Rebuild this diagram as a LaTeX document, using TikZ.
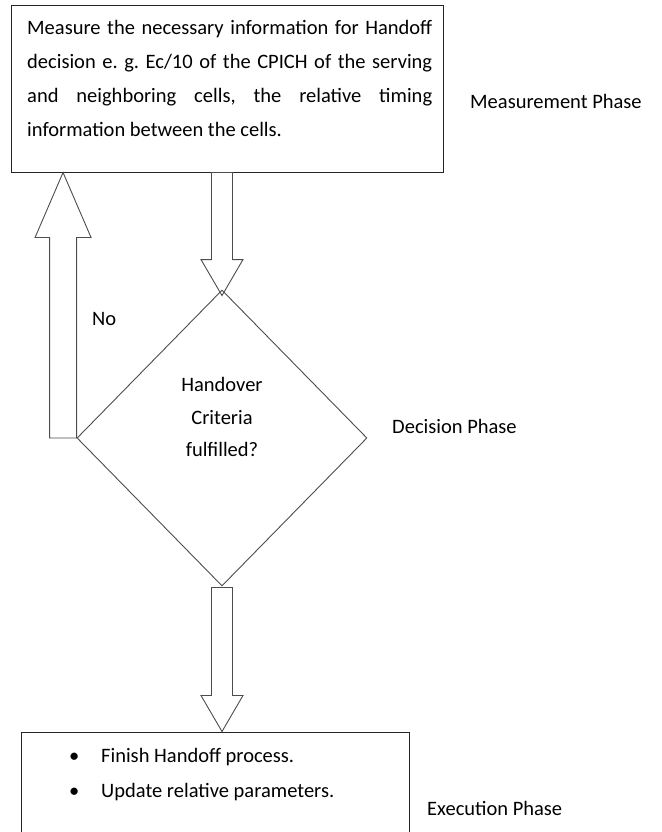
\documentclass[tikz,border=0pt]{standalone}
\usepackage{fontspec}
\setmainfont{Carlito}
\usetikzlibrary{shapes.geometric,calc}
\frenchspacing

\begin{document}
\begin{tikzpicture}[x=1pt,y=-1pt,
    box/.style={draw=black!85, line width=1pt, inner sep=0pt},
    fat/.style={draw=black!70, line width=0.9pt, line join=miter},
    txt/.style={inner sep=0pt, font=\fontsize{20.5}{34}\selectfont}]
\path[use as bounding box] (0,0) rectangle (661,832);
% Nodes
\node[box, minimum width=432pt, minimum height=166pt] (meas) at (227,89) {};
\node[txt, anchor=north west, text width=405pt, align=justify] (meastext) at (27,20)
  {Measure the necessary information for Handoff\linebreak
   decision e. g. Ec/10 of the CPICH of the serving\linebreak
   and neighboring cells, the relative timing\linebreak
   information between the cells.};
\node[diamond, draw=black!70, line width=0.9pt, inner sep=0pt, aspect=1,
  minimum width=290pt, minimum height=296pt] (dec) at (222,438) {};
\node[txt, align=center, font=\fontsize{20.5}{32.5}\selectfont] (dectext)
  at ([yshift=21pt]dec.center) {Handover\\Criteria\\fulfilled?};
\node[box, minimum width=388pt, minimum height=130pt] (exec) at (215,797) {};
\node[txt, anchor=north west, align=left, font=\fontsize{20.5}{35}\selectfont] (exectext) at (69,748)
  {\makebox[32pt][l]{\textbullet}Finish Handoff process.\\
   \makebox[32pt][l]{\textbullet}Update relative parameters.};
% Labels
\node[txt, anchor=base west] (measlbl) at (470,109) {Measurement Phase};
\node[txt, anchor=base west] (declbl) at (392,433) {Decision Phase};
\node[txt, anchor=base west] (execlbl) at (427,815) {Execution Phase};
\node[txt, anchor=base west] (nolbl) at (92,325) {No};
% Edges
\coordinate (a0) at (meas.south -| dec.north);
\coordinate (atip) at ($(dec.north)+(0,6)$);
\draw[fat] ($(a0)+(-10.5,0)$) -- ($(atip)+(-10.5,-36)$) -- ($(atip)+(-21,-36)$) -- (atip)
  -- ($(atip)+(21,-36)$) -- ($(atip)+(10.5,-36)$) -- ($(a0)+(10.5,0)$) -- cycle;
\coordinate (b0) at ($(dec.west)+(-13.5,0)$);
\coordinate (btip) at (meas.south -| b0);
\draw[fat] ($(b0)+(-13.5,0)$) -- ($(btip)+(-13.5,65)$) -- ($(btip)+(-28,65)$) -- (btip)
  -- ($(btip)+(28,65)$) -- ($(btip)+(13.5,65)$) -- ($(b0)+(13.5,0)$) -- cycle;
\coordinate (c0) at ($(dec.south)+(0,1)$);
\coordinate (ctip) at (exec.north -| dec.south);
\draw[fat] ($(c0)+(-10.5,0)$) -- ($(ctip)+(-10.5,-36)$) -- ($(ctip)+(-21,-36)$) -- (ctip)
  -- ($(ctip)+(21,-36)$) -- ($(ctip)+(10.5,-36)$) -- ($(c0)+(10.5,0)$) -- cycle;
\end{tikzpicture}
\end{document}
